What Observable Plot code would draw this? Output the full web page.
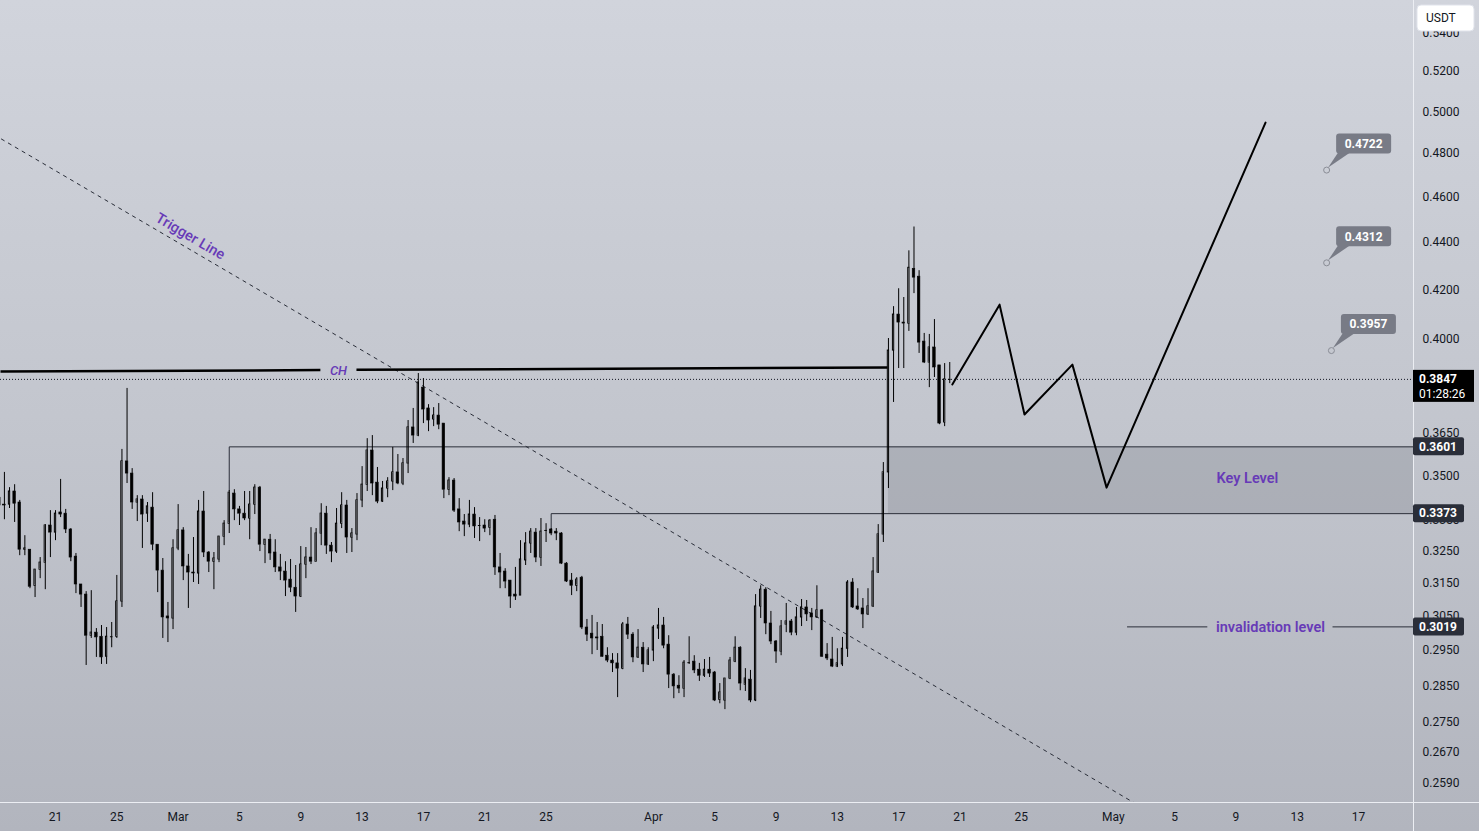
<!DOCTYPE html>
<html><head><meta charset="utf-8">
<script src="https://cdn.jsdelivr.net/npm/d3@7"></script>
<script src="https://cdn.jsdelivr.net/npm/@observablehq/plot@0.6"></script>
<style>
html,body{margin:0;padding:0;width:1479px;height:831px;overflow:hidden;background:linear-gradient(#d1d4dc 0%,#c3c6ce 50%,#b2b5be 100%);}
#chart svg{display:block;}
</style></head><body><div id="chart"></div>
<script>
// ---- data (8h candles, USDT) ----
const firstOpen = "2023-02-17T08:00:00Z";
const opens = [.3426,.3403,.3403,.3447,.3410,.3256,.3256,.3143,.3193,.3215,
.3334,.3311,.3377,.3373,.3321,.3234,.3147,.3116,.2993,.3002,
.2990,.2932,.2990,.2990,.3095,.3550,.3508,.3410,.3420,.3373,
.3393,.3272,.3190,.3050,.3044,.3260,.3318,.3203,.3184,.3181,
.3380,.3247,.3218,.3225,.3298,.3340,.3440,.3387,.3373,.3357,
.3403,.3460,.3272,.3288,.3247,.3200,.3187,.3162,.3137,.3110,
.3209,.3231,.3218,.3308,.3373,.3269,.3250,.3340,.3400,.3295,
.3305,.3417,.3470,.3588,.3477,.3413,.3457,.3481,.3512,.3474,
.3543,.3670,.3641,.3816,.3739,.3699,.3713,.3684,.3453,.3484,
.3387,.3347,.3337,.3370,.3334,.3334,.3327,.3353,.3200,.3187,
.3159,.3116,.3113,.3222,.3276,.3311,.3231,.3318,.3321,.3314,
.3308,.3212,.3159,.3143,.3168,.3017,.2999,.2988,.2990,.2935,
.2921,.2913,.2898,.3026,.2996,.2930,.2958,.2910,.2950,.3014,
.3023,.2967,.2881,.2850,.2842,.2915,.2918,.2895,.2878,.2895,
.2887,.2811,.2809,.2870,.2918,.2958,.2853,.2867,.2809,.3080,
.3131,.3029,.2976,.2947,.3026,.3035,.3002,.3047,.3077,.3059,
.3047,.3068,.2938,.2924,.2904,.2910,.2955,.3153,.3080,.3074,
.3056,.3080,.3184,.3305,.3512,.3957,.4099,.4067,.4063,.4287,
.4254,.3992,.3911,.3969,.3900,.3688,.3847];
const highs = [.3433,.3512,.3460,.3470,.3417,.3301,.3256,.3193,.3231,.3337,
.3383,.3383,.3488,.3387,.3324,.3244,.3147,.3125,.3128,.3014,
.3023,.3017,.3032,.3175,.3592,.3813,.3525,.3433,.3433,.3410,
.3443,.3272,.3228,.3092,.3288,.3403,.3327,.3241,.3295,.3417,
.3447,.3250,.3247,.3298,.3350,.3450,.3453,.3397,.3447,.3447,
.3470,.3464,.3288,.3305,.3288,.3241,.3218,.3225,.3206,.3266,
.3263,.3327,.3324,.3406,.3397,.3279,.3390,.3443,.3417,.3324,
.3440,.3532,.3630,.3641,.3529,.3481,.3494,.3599,.3574,.3560,
.3695,.3739,.3869,.3850,.3753,.3742,.3757,.3684,.3494,.3491,
.3423,.3370,.3417,.3393,.3360,.3353,.3353,.3367,.3244,.3196,
.3159,.3200,.3285,.3311,.3324,.3324,.3357,.3340,.3324,.3324,
.3311,.3215,.3181,.3168,.3172,.3041,.3053,.3032,.3026,.2958,
.2941,.2941,.3032,.3047,.3002,.3011,.2973,.2958,.3023,.3074,
.3047,.2993,.2884,.2878,.2921,.2990,.2935,.2913,.2924,.2930,
.2890,.2856,.2870,.2930,.2990,.2961,.2898,.2893,.3116,.3143,
.3137,.3065,.2979,.3038,.3089,.3041,.3077,.3101,.3098,.3074,
.3143,.3071,.2970,.2988,.2955,.2988,.3159,.3165,.3134,.3104,
.3134,.3231,.3337,.3546,.4004,.4131,.4204,.4168,.4363,.4466,
.4279,.4024,.4020,.4079,.3900,.3907,.3911];
const lows = [.3383,.3353,.3390,.3344,.3237,.3237,.3134,.3107,.3165,.3131,
.3231,.3285,.3360,.3308,.3218,.3119,.3077,.2907,.2985,.2930,
.2910,.2910,.2958,.2985,.3077,.3474,.3387,.3347,.3260,.3344,
.3253,.3122,.2985,.2973,.3011,.3253,.3159,.3074,.3153,.3147,
.3231,.3184,.3131,.3215,.3269,.3308,.3350,.3334,.3350,.3288,
.3370,.3250,.3212,.3222,.3184,.3159,.3110,.3122,.3062,.3107,
.3165,.3209,.3218,.3269,.3241,.3215,.3244,.3324,.3244,.3247,
.3285,.3393,.3447,.3433,.3406,.3410,.3426,.3450,.3470,.3467,
.3508,.3613,.3637,.3684,.3655,.3673,.3662,.3423,.3433,.3377,
.3314,.3298,.3327,.3292,.3282,.3311,.3301,.3175,.3134,.3134,
.3074,.3098,.3113,.3206,.3244,.3215,.3203,.3279,.3301,.3285,
.3209,.3153,.3113,.3125,.3011,.2976,.2938,.2950,.2930,.2915,
.2887,.2817,.2895,.2982,.2915,.2927,.2887,.2907,.2918,.2982,
.2955,.2842,.2814,.2828,.2817,.2910,.2884,.2862,.2873,.2873,
.2806,.2800,.2784,.2867,.2915,.2836,.2834,.2803,.2806,.3044,
.2996,.2967,.2913,.2935,.3002,.2993,.2993,.3020,.3035,.3008,
.3044,.2930,.2921,.2901,.2901,.2904,.2930,.3074,.3068,.3014,
.3053,.3077,.3181,.3279,.3457,.3761,.3888,.3888,.4032,.4184,
.3946,.3907,.3816,.3854,.3680,.3673,.3831];
const closes = [.3400,.3400,.3447,.3406,.3256,.3260,.3140,.3193,.3215,.3334,
.3311,.3373,.3370,.3321,.3231,.3147,.3116,.2993,.3002,.2988,
.2930,.2990,.2990,.3095,.3550,.3508,.3410,.3420,.3370,.3397,
.3272,.3190,.3047,.3044,.3260,.3318,.3203,.3184,.3181,.3380,
.3247,.3218,.3228,.3298,.3340,.3443,.3387,.3373,.3357,.3403,
.3460,.3272,.3288,.3244,.3200,.3187,.3159,.3137,.3110,.3209,
.3231,.3218,.3308,.3373,.3269,.3250,.3340,.3400,.3295,.3308,
.3417,.3470,.3588,.3474,.3413,.3457,.3481,.3512,.3474,.3543,
.3670,.3641,.3835,.3735,.3695,.3713,.3680,.3453,.3484,.3383,
.3344,.3337,.3370,.3331,.3334,.3324,.3350,.3200,.3184,.3156,
.3110,.3110,.3225,.3276,.3314,.3231,.3314,.3318,.3308,.3308,
.3212,.3156,.3143,.3162,.3017,.2996,.2985,.2985,.2932,.2921,
.2913,.2898,.3026,.2996,.2930,.2958,.2910,.2950,.3017,.3023,
.2964,.2881,.2848,.2842,.2915,.2915,.2893,.2878,.2895,.2884,
.2809,.2831,.2870,.2921,.2958,.2856,.2870,.2809,.3080,.3131,
.3029,.2976,.2947,.3020,.3035,.3002,.3047,.3077,.3056,.3047,
.3068,.2932,.2927,.2904,.2913,.2955,.3153,.3077,.3071,.3056,
.3080,.3187,.3305,.3512,.3957,.4099,.4067,.4063,.4291,.4250,
.3988,.3911,.3969,.3892,.3684,.3847,.3847];
const lastPrice = 0.3847;
const countdown = "01:28:26";

const yTicks = [0.54,0.52,0.50,0.48,0.46,0.44,0.42,0.40,0.365,0.35,0.335,0.325,0.315,0.305,0.295,0.285,0.275,0.267,0.259];
const xTickDates = ["2023-02-21","2023-02-25","2023-03-01","2023-03-05","2023-03-09","2023-03-13","2023-03-17","2023-03-21","2023-03-25","2023-04-01","2023-04-05","2023-04-09","2023-04-13","2023-04-17","2023-04-21","2023-04-25","2023-05-01","2023-05-05","2023-05-09","2023-05-13","2023-05-17"];
const xTickLabels = ["21","25","Mar","5","9","13","17","21","25","Apr","5","9","13","17","21","25","May","5","9","13","17"];

// drawings
const chDates = ["2023-02-17T09:53Z","2023-03-10T06:40Z","2023-03-12T15:10Z","2023-04-16T06:30Z"];
const chPrices = [0.3877,0.3882,0.3883,0.3892];
const triggerDates = ["2023-02-17T00:00Z","2023-05-03T00:00Z"];
const triggerPrices = [0.4888,0.2527];
const projDates = ["2023-04-20T12:00Z","2023-04-23T14:00Z","2023-04-25T05:00Z","2023-04-28T08:00Z","2023-04-30T13:30Z","2023-05-10T22:20Z"];
const projPrices = [0.3828,0.4139,0.3717,0.3903,0.3460,0.4947];
const levelHigh = 0.3601, levelLow = 0.3373, invalidation = 0.3019;
const levelHighFrom = "2023-03-04T08:00Z", levelLowFrom = "2023-03-25T08:00Z", zoneFrom = "2023-04-16T08:00Z";
const invalidDates = ["2023-05-01T22:20Z","2023-05-07T04:00Z","2023-05-15T08:00Z"];
const targets = [0.4722,0.4312,0.3957];
const targetDates = ["2023-05-14T22:00Z","2023-05-14T22:00Z","2023-05-15T05:30Z"];

// ---- layout ----
const W = 1479, H = 831, mR = 66, mB = 29;
const xDomain = [new Date("2023-02-17T09:53:00Z"), new Date("2023-05-20T14:00:00Z")];
const yDomain = [0.2542, 0.5575];
const HOUR = 3600e3;
const purple = "#673ab7";
const FONT = "Roboto, 'Noto Sans', sans-serif";

const t0 = Date.parse(firstOpen);
const candles = opens.map((o, i) => ({t: new Date(t0 + i*8*HOUR), o, h: highs[i], l: lows[i], c: closes[i]}));
const up = candles.filter(d => d.c > d.o);
const down = candles.filter(d => d.c < d.o);
const flat = candles.filter(d => d.c === d.o);
const bx1 = d => new Date(+d.t - 1.0*HOUR), bx2 = d => new Date(+d.t + 1.0*HOUR);
const fx1 = d => new Date(+d.t - 2.0*HOUR), fx2 = d => new Date(+d.t + 2.0*HOUR);

const xEnd = xDomain[1];
const proj = projDates.map((d,i)=>({t:new Date(d), p:projPrices[i]}));
const chSegs = [
  {x1:new Date(chDates[0]), y1:chPrices[0], x2:new Date(chDates[1]), y2:chPrices[1]},
  {x1:new Date(chDates[2]), y1:chPrices[2], x2:new Date(chDates[3]), y2:chPrices[3]}
];
const trig = [{x1:new Date(triggerDates[0]), y1:triggerPrices[0], x2:new Date(triggerDates[1]), y2:triggerPrices[1]}];
const hiPath = [{t:new Date(levelHighFrom), p:highs[45]}, {t:new Date(levelHighFrom), p:levelHigh}, {t:xEnd, p:levelHigh}];
const loPath = [{t:new Date(levelLowFrom), p:highs[108]}, {t:new Date(levelLowFrom), p:levelLow}, {t:xEnd, p:levelLow}];
const invSegs = [
  {x1:new Date(invalidDates[0]), x2:new Date(invalidDates[1]), y:invalidation},
  {x1:new Date(invalidDates[2]), x2:xEnd, y:invalidation}
];
const tgt = targets.map((v,i)=>({t:new Date(targetDates[i]), p:v}));

const chart = Plot.plot({
  width: W, height: H,
  marginLeft: 0, marginRight: mR, marginTop: 0, marginBottom: mB,
  style: {background: "transparent", color: "#131722", fontFamily: FONT, fontSize: "12px"},
  x: {type: "utc", domain: xDomain, ticks: xTickDates.map(d => new Date(d + "T00:00:00Z")),
      tickFormat: d => xTickLabels[xTickDates.indexOf(d.toISOString().slice(0,10))], tickSize: 0, tickPadding: 10, label: null},
  y: {type: "log", domain: yDomain, ticks: yTicks, tickFormat: d => d.toFixed(4), tickSize: 0, tickPadding: 9, label: null, axis: "right"},
  marks: [
    Plot.rect([{x1:new Date(zoneFrom), x2:xEnd, y1:levelLow, y2:levelHigh}], {x1:"x1", x2:"x2", y1:"y1", y2:"y2", fill:"#7d808a", fillOpacity:0.3}),
    Plot.line(hiPath, {x:"t", y:"p", stroke:"#2a2e39", strokeWidth:1}),
    Plot.line(loPath, {x:"t", y:"p", stroke:"#2a2e39", strokeWidth:1}),
    Plot.ruleY([lastPrice], {stroke:"#131722", strokeDasharray:"1,2", strokeWidth:1}),
    Plot.link(trig, {x1:"x1", y1:"y1", x2:"x2", y2:"y2", stroke:"#2a2e39", strokeWidth:1, strokeDasharray:"4,4", clip:true}),
    Plot.link(chSegs, {x1:"x1", y1:"y1", x2:"x2", y2:"y2", stroke:"#000", strokeWidth:2.5}),
    Plot.text([{t:new Date("2023-03-11T11:00Z"), p:0.3881}], {x:"t", y:"p", text:()=>"CH", fill:purple, fontStyle:"italic", fontSize:13, fontWeight:500, fontFamily:FONT}),
    Plot.text([{t:new Date("2023-03-01T19:00Z"), p:0.4425}], {x:"t", y:"p", text:()=>"Trigger Line", rotate:30.4, fill:purple, fontSize:14.5, fontWeight:500, fontFamily:FONT}),
    // candles: wicks
    Plot.ruleX(candles, {x:"t", y1:d=>Math.max(d.o,d.c), y2:"h", stroke:"#000", strokeWidth:1}),
    Plot.ruleX(candles, {x:"t", y1:"l", y2:d=>Math.min(d.o,d.c), stroke:"#000", strokeWidth:1}),
    Plot.rect(down, {x1:fx1, x2:fx2, y1:"o", y2:"c", fill:"#000", stroke:"#000", strokeWidth:0.6}),
    Plot.rect(up, {x1:bx1, x2:bx2, y1:"o", y2:"c", fill:"none", stroke:"#000", strokeWidth:1}),
    Plot.ruleY(flat, {y:"c", x1:fx1, x2:fx2, stroke:"#000", strokeWidth:1}),
    // projection path
    Plot.line(proj, {x:"t", y:"p", stroke:"#000", strokeWidth:2}),
    // key level / invalidation
    Plot.text([{t:new Date("2023-05-09T18:00Z"), p:0.3491}], {x:"t", y:"p", text:()=>"Key Level", fill:purple, fontSize:14.5, fontWeight:600, fontFamily:FONT}),
    Plot.ruleY(invSegs, {y:"y", x1:"x1", x2:"x2", stroke:"#2a2e39", strokeWidth:1}),
    Plot.text([{t:new Date("2023-05-11T06:00Z"), p:invalidation}], {x:"t", y:"p", text:()=>"invalidation level", fill:purple, fontSize:14.5, fontWeight:600, fontFamily:FONT}),
    Plot.dot(tgt, {x:"t", y:"p", r:3, stroke:"#8a8d96", fill:"none", strokeWidth:1})
  ]
});
document.getElementById("chart").appendChild(chart);

// ---- overlays positioned through Plot's scales ----
const X = chart.scale("x"), Y = chart.scale("y");
const svg = d3.select(chart);
const axisX = W - mR;
const g = svg.append("g").attr("font-family", FONT).attr("text-anchor", "start");

// target callouts
tgt.forEach(d => {
  const cx = X.apply(d.t), cy = Y.apply(d.p);
  g.append("path").attr("d", `M${cx+12},${cy-17} L${cx+24},${cy-17} L${cx+2},${cy-2} Z`).attr("fill", "#787b86");
  g.append("rect").attr("x", cx+10).attr("y", cy-36).attr("width", 55).attr("height", 20).attr("rx", 3).attr("fill", "#787b86");
  g.append("text").attr("x", cx+37.5).attr("y", cy-26).attr("dy", "0.35em").attr("text-anchor", "middle")
    .attr("fill", "#fff").attr("font-size", 12).attr("font-weight", 700).text(d.p.toFixed(4));
});

// separators
g.append("line").attr("x1", axisX+0.5).attr("x2", axisX+0.5).attr("y1", 0).attr("y2", H).attr("stroke", "#eceef3").attr("stroke-width", 1);
g.append("line").attr("x1", 0).attr("x2", W).attr("y1", H-mB+0.5).attr("y2", H-mB+0.5).attr("stroke", "#eceef3").attr("stroke-width", 1);

// price labels on the axis
[levelHigh, levelLow, invalidation].forEach(v => {
  const y = Y.apply(v);
  g.append("rect").attr("x", axisX).attr("y", y-9).attr("width", 51).attr("height", 18).attr("rx", 2).attr("fill", "#2a2e39");
  g.append("text").attr("x", axisX+6).attr("y", y).attr("dy", "0.35em").attr("fill", "#fff").attr("font-size", 12).attr("font-weight", 700).text(v.toFixed(4));
});
{
  const y = Y.apply(lastPrice);
  g.append("rect").attr("x", axisX).attr("y", y-9).attr("width", 61).attr("height", 32).attr("fill", "#000");
  g.append("text").attr("x", axisX+6).attr("y", y).attr("dy", "0.35em").attr("fill", "#fff").attr("font-size", 12).attr("font-weight", 700).text(lastPrice.toFixed(4));
  g.append("text").attr("x", axisX+6).attr("y", y+15).attr("dy", "0.35em").attr("fill", "#fff").attr("font-size", 12).text(countdown);
}
// currency button
g.append("rect").attr("x", axisX+4).attr("y", 5).attr("width", 57).attr("height", 26).attr("rx", 4).attr("fill", "#fff").attr("stroke", "#e0e3eb");
g.append("text").attr("x", axisX+13).attr("y", 18).attr("dy", "0.35em").attr("fill", "#131722").attr("font-size", 12).text("USDT");
</script>
</body></html>
